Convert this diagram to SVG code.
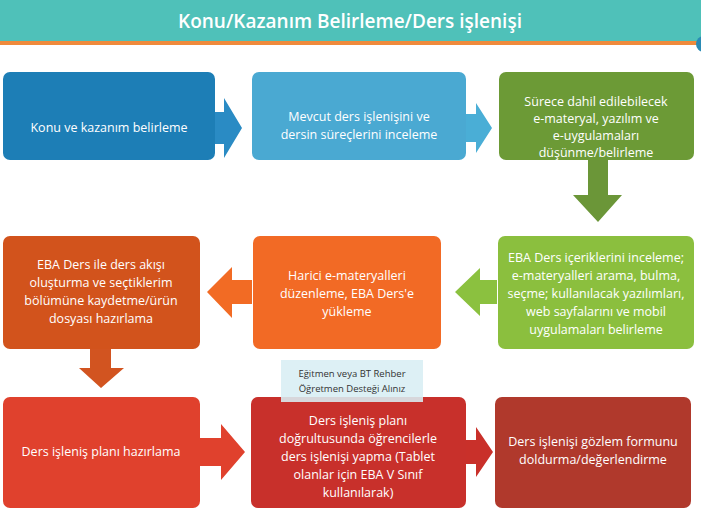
<svg xmlns="http://www.w3.org/2000/svg" width="701" height="520" viewBox="0 0 701 520">
<style>
text{font-family:"Open Sans","Liberation Sans",sans-serif;fill:#fff;font-size:12.5px;text-anchor:middle}
.a{stroke:none}
</style>
<rect width="701" height="520" fill="#fff"/>
<rect x="0" y="0" width="701" height="41" fill="#4fc1b9"/>
<rect x="0" y="41" width="701" height="4" fill="#ef8a3c"/>
<circle cx="704" cy="44" r="8" fill="#2a8bb5"/>
<text x="350" y="28" style="font-size:19px;font-weight:600">Konu/Kazanım Belirleme/Ders işlenişi</text>
<g id="connectors">
<polygon points="214,112 224,112 224,98 242,128 224,158 224,144 214,144" fill="#2a8bc4"/>
<polygon points="466,114 476,114 476,103 492,128 476,153 476,142 466,142" fill="#4aaed6"/>
<polygon points="588,160 608,160 608,195 622,195 598,222 573,195 588,195" fill="#6b9638"/>
<polygon points="497,280 480,280 480,268 455,292 480,316 480,304 497,304" fill="#8bc13f"/>
<polygon points="252,280 232,280 232,267 207,292 232,318 232,304 252,304" fill="#f26b24"/>
<polygon points="90,349 111,349 111,368 124,368 101,388 79,368 90,368" fill="#d25420"/>
<polygon points="200,438 221,438 221,424 245,452 221,480 221,466 200,466" fill="#e0412d"/>
<polygon points="466,440 476,440 476,427 493,452 476,477 476,464 466,464" fill="#c9302a"/>
</g>
<g id="n1"><rect x="3" y="72" width="212" height="88" rx="7" fill="#1d7eb6"/><text x="109" y="132">Konu ve kazanım belirleme</text></g>
<g id="n2"><rect x="252" y="72" width="214" height="88" rx="7" fill="#4aa9d2"/><text x="359" y="121">Mevcut ders işlenişini ve</text><text x="359" y="139">dersin süreçlerini inceleme</text></g>
<g id="n3"><rect x="499" y="72" width="195" height="88" rx="7" fill="#6c9a36"/><text x="596" y="106">Sürece dahil edilebilecek</text><text x="596" y="123">e-materyal, yazılım ve</text><text x="596" y="140">e-uygulamaları</text><text x="596" y="157">düşünme/belirleme</text></g>
<g id="n4"><rect x="498" y="236" width="196" height="113" rx="7" fill="#8bbf3e"/><text x="596" y="262">EBA Ders içeriklerini inceleme;</text><text x="596" y="280">e-materyalleri arama, bulma,</text><text x="596" y="298">seçme; kullanılacak yazılımları,</text><text x="596" y="316">web sayfalarını ve mobil</text><text x="596" y="334">uygulamaları belirleme</text></g>
<g id="n5"><rect x="253" y="236" width="188" height="113" rx="7" fill="#f26a25"/><text x="347" y="280">Harici e-materyalleri</text><text x="347" y="298">düzenleme, EBA Ders'e</text><text x="347" y="316">yükleme</text></g>
<g id="n6"><rect x="3" y="236" width="197" height="113" rx="7" fill="#d2531c"/><text x="101" y="269">EBA Ders ile ders akışı</text><text x="101" y="287">oluşturma ve seçtiklerim</text><text x="101" y="305">bölümüne kaydetme/ürün</text><text x="101" y="323">dosyası hazırlama</text></g>
<g id="n7"><rect x="3" y="397" width="197" height="111" rx="7" fill="#e0412d"/><text x="101" y="456">Ders işleniş planı hazırlama</text></g>
<g id="n8"><rect x="251" y="397" width="215" height="111" rx="7" fill="#c8302b"/><text x="358" y="425">Ders işleniş planı</text><text x="358" y="443">doğrultusunda öğrencilerle</text><text x="358" y="461">ders işlenişi yapma (Tablet</text><text x="358" y="479">olanlar için EBA V Sınıf</text><text x="358" y="497">kullanılarak)</text></g>
<g id="n9"><rect x="495" y="397" width="196" height="111" rx="7" fill="#b0392c"/><text x="593" y="446">Ders işlenişi gözlem formunu</text><text x="593" y="464">doldurma/değerlendirme</text></g>
<g id="note"><rect x="281" y="360" width="142" height="42" fill="#d8eef4" fill-opacity="0.88"/><text x="352" y="377" style="fill:#333;font-size:9.5px">Eğitmen veya BT Rehber</text><text x="352" y="392" style="fill:#333;font-size:9.5px">Öğretmen Desteği Alınız</text></g>
</svg>
